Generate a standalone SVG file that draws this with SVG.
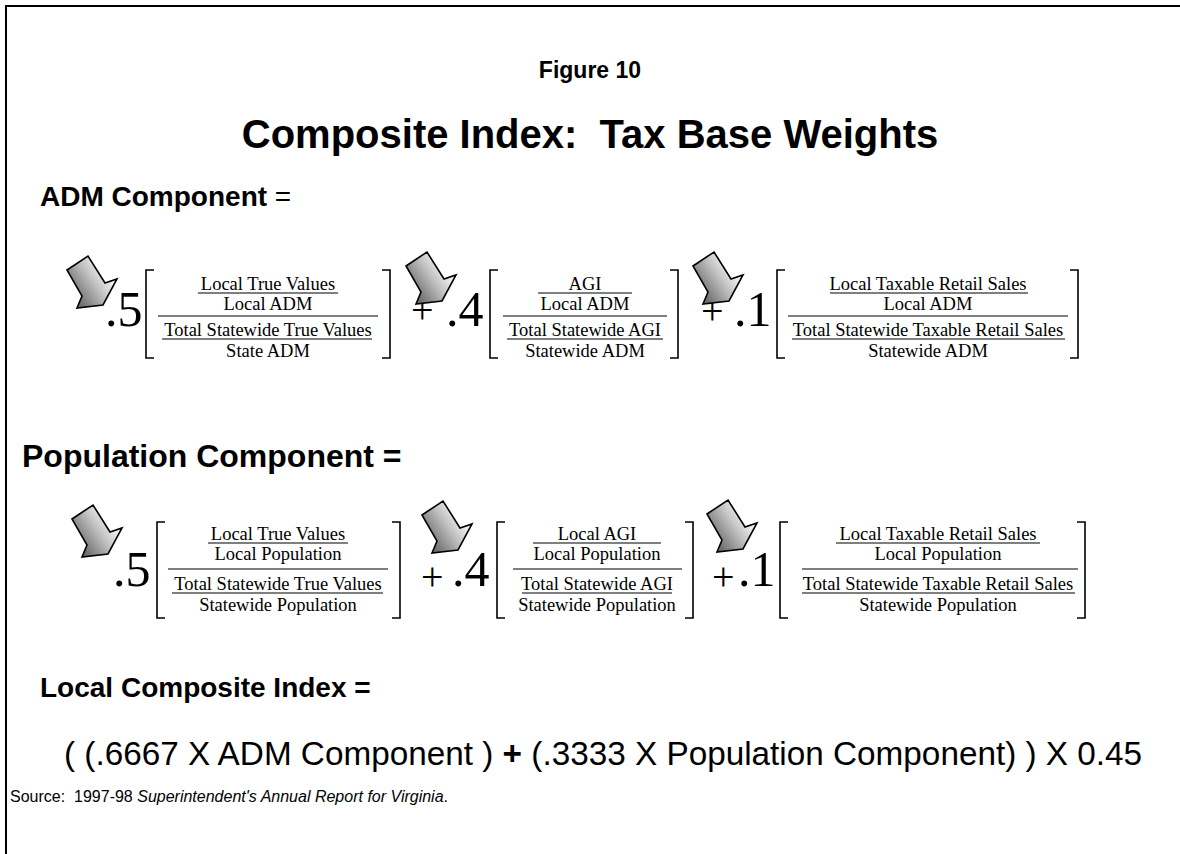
<svg xmlns="http://www.w3.org/2000/svg" width="1180" height="854" viewBox="0 0 1180 854">
  <defs>
    <linearGradient id="pointerFill" x1="0.15" y1="0.75" x2="0.85" y2="0.25">
      <stop offset="0" stop-color="#6e6e6e"/>
      <stop offset="0.55" stop-color="#c4c4c4"/>
      <stop offset="1" stop-color="#ffffff"/>
    </linearGradient>
    <!-- block arrow pointing down to the right -->
    <path id="pointer" d="M0,14 L21,0 L38,27 L50,23 L36,49 L10,52 L15,40 Z" fill="url(#pointerFill)" stroke="#000" stroke-width="1.6" stroke-linejoin="miter"/>
  </defs>
  <style>
    .head { font-family: "Liberation Sans", Arial, sans-serif; font-weight: bold; fill: #000; }
    .plain { font-family: "Liberation Sans", Arial, sans-serif; fill: #000; }
    .frac { font-family: "Liberation Serif", "Times New Roman", serif; font-size: 18.5px; text-anchor: middle; fill: #000; }
    .coef { font-family: "Liberation Serif", "Times New Roman", serif; font-size: 50px; fill: #000; }
    .plus { font-family: "Liberation Serif", "Times New Roman", serif; font-size: 40px; fill: #000; }
    .rule { stroke: #000; stroke-width: 1.2; fill: none; }
    .brk { stroke: #000; stroke-width: 1.6; fill: none; }
  </style>

  <rect width="1180" height="854" fill="#fff"/>
  <!-- page frame: top and left edges only -->
  <path d="M6,854 V6 H1180" fill="none" stroke="#000" stroke-width="2"/>

  <g id="titles">
    <text class="head" x="590" y="78" font-size="23" text-anchor="middle">Figure 10</text>
    <text class="head" x="590" y="148" font-size="40" text-anchor="middle">Composite Index:&#160; Tax Base Weights</text>
  </g>

  <g id="adm-heading">
    <text class="head" x="40" y="206" font-size="28">ADM Component <tspan font-weight="normal">=</tspan></text>
  </g>

  <!-- ADM component terms -->
  <g id="adm-true-values">
    <text class="coef" x="105" y="326">.5</text>
    <path class="brk" d="M154,270 H146 V358 H154 M382,270 H390 V358 H382"/>
    <text class="frac" x="268" y="290">Local True Values</text>
    <line class="rule" x1="198" y1="293" x2="338" y2="293"/>
    <text class="frac" x="268" y="310">Local ADM</text>
    <line class="rule" x1="158" y1="316" x2="378" y2="316"/>
    <text class="frac" x="268" y="336">Total Statewide True Values</text>
    <line class="rule" x1="162" y1="339" x2="372" y2="339"/>
    <text class="frac" x="268" y="357">State ADM</text>
  </g>

  <g id="adm-agi">
    <text class="plus" x="411" y="323">+</text>
    <text class="coef" x="446" y="326">.4</text>
    <path class="brk" d="M498,270 H490 V358 H498 M670,270 H678 V358 H670"/>
    <text class="frac" x="585" y="290">AGI</text>
    <line class="rule" x1="538" y1="293" x2="632" y2="293"/>
    <text class="frac" x="585" y="310">Local ADM</text>
    <line class="rule" x1="503" y1="316" x2="667" y2="316"/>
    <text class="frac" x="585" y="336">Total Statewide AGI</text>
    <line class="rule" x1="507" y1="339" x2="663" y2="339"/>
    <text class="frac" x="585" y="357">Statewide ADM</text>
  </g>

  <g id="adm-retail">
    <text class="plus" x="701" y="324">+</text>
    <text class="coef" x="734" y="326">.1</text>
    <path class="brk" d="M785,270 H777 V358 H785 M1070,270 H1078 V358 H1070"/>
    <text class="frac" x="928" y="290">Local Taxable Retail Sales</text>
    <line class="rule" x1="830" y1="293" x2="1028" y2="293"/>
    <text class="frac" x="928" y="310">Local ADM</text>
    <line class="rule" x1="788" y1="316" x2="1068" y2="316"/>
    <text class="frac" x="928" y="336">Total Statewide Taxable Retail Sales</text>
    <line class="rule" x1="792" y1="339" x2="1065" y2="339"/>
    <text class="frac" x="928" y="357">Statewide ADM</text>
  </g>

  <g id="population-heading">
    <text class="head" x="22" y="467" font-size="32">Population Component =</text>
  </g>

  <!-- population component terms -->
  <g id="pop-true-values">
    <text class="coef" x="113" y="586">.5</text>
    <path class="brk" d="M165,522 H157 V618 H165 M392,522 H400 V618 H392"/>
    <text class="frac" x="278" y="540">Local True Values</text>
    <line class="rule" x1="208" y1="543" x2="348" y2="543"/>
    <text class="frac" x="278" y="560">Local Population</text>
    <line class="rule" x1="168" y1="569" x2="388" y2="569"/>
    <text class="frac" x="278" y="590">Total Statewide True Values</text>
    <line class="rule" x1="172" y1="593" x2="383" y2="593"/>
    <text class="frac" x="278" y="611">Statewide Population</text>
  </g>

  <g id="pop-agi">
    <text class="plus" x="421" y="590">+</text>
    <text class="coef" x="452" y="586">.4</text>
    <path class="brk" d="M505,522 H497 V618 H505 M685,522 H693 V618 H685"/>
    <text class="frac" x="597" y="540">Local AGI</text>
    <line class="rule" x1="533" y1="543" x2="661" y2="543"/>
    <text class="frac" x="597" y="560">Local Population</text>
    <line class="rule" x1="513" y1="569" x2="682" y2="569"/>
    <text class="frac" x="597" y="590">Total Statewide AGI</text>
    <line class="rule" x1="522" y1="593" x2="672" y2="593"/>
    <text class="frac" x="597" y="611">Statewide Population</text>
  </g>

  <g id="pop-retail">
    <text class="plus" x="712" y="590">+</text>
    <text class="coef" x="738" y="586">.1</text>
    <path class="brk" d="M788,522 H780 V618 H788 M1077,522 H1085 V618 H1077"/>
    <text class="frac" x="938" y="540">Local Taxable Retail Sales</text>
    <line class="rule" x1="836" y1="543" x2="1040" y2="543"/>
    <text class="frac" x="938" y="560">Local Population</text>
    <line class="rule" x1="802" y1="569" x2="1078" y2="569"/>
    <text class="frac" x="938" y="590">Total Statewide Taxable Retail Sales</text>
    <line class="rule" x1="802" y1="593" x2="1075" y2="593"/>
    <text class="frac" x="938" y="611">Statewide Population</text>
  </g>

  <g id="pointers">
    <use href="#pointer" transform="translate(67,256)"/>
    <use href="#pointer" transform="translate(406,252)"/>
    <use href="#pointer" transform="translate(693,252)"/>
    <use href="#pointer" transform="translate(72,505)"/>
    <use href="#pointer" transform="translate(422,501)"/>
    <use href="#pointer" transform="translate(707,500)"/>
  </g>

  <g id="composite">
    <text class="head" x="40" y="697" font-size="28">Local Composite Index =</text>
    <text class="plain" x="64" y="765" font-size="33.3">( (.6667 X ADM Component ) <tspan font-weight="bold">+</tspan> (.3333 X Population Component) ) X 0.45</text>
  </g>

  <g id="source">
    <text class="plain" x="10" y="802" font-size="16">Source:&#160; 1997-98 <tspan font-style="italic">Superintendent's Annual Report for Virginia</tspan>.</text>
  </g>
</svg>
